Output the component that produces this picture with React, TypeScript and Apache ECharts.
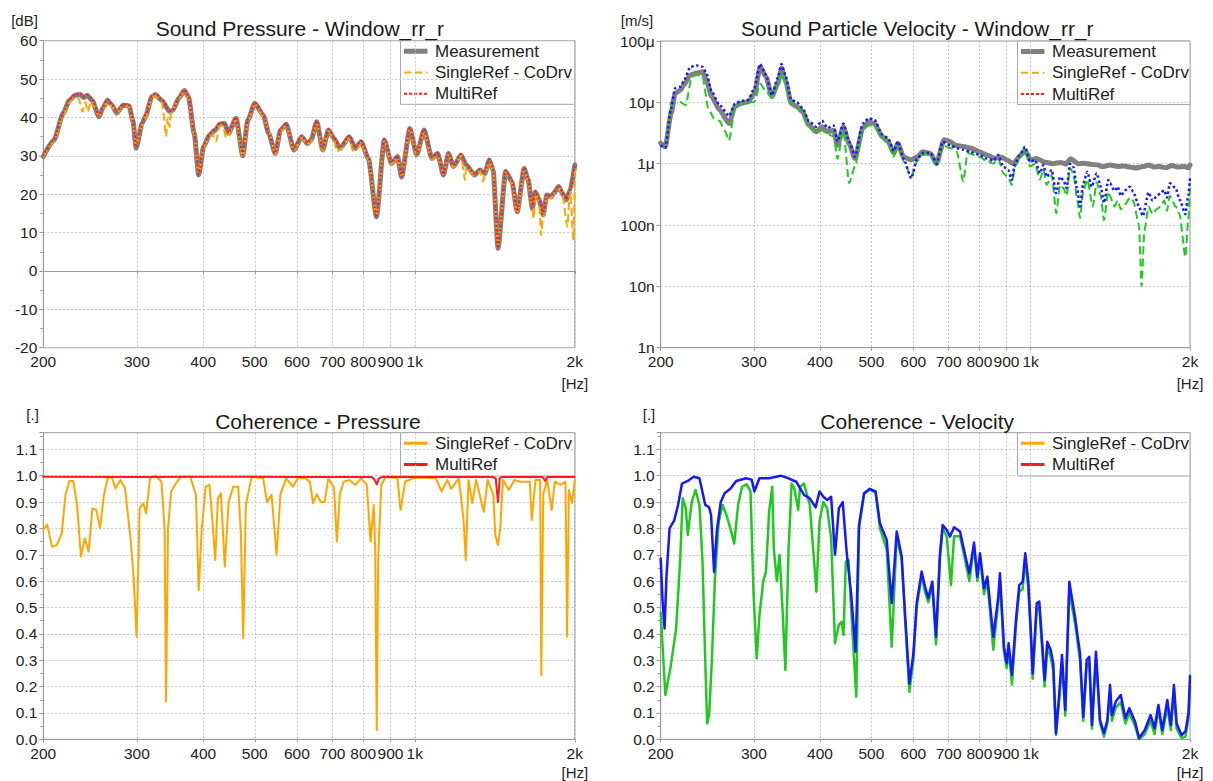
import React, { useEffect, useRef } from "react";
import * as echarts from "echarts";

const FONT = '"Liberation Sans", Arial, sans-serif';

// ---------- axis ticks ----------
const freqTicks = [200, 300, 400, 500, 600, 700, 800, 900, 1000, 2000];
const velocityTicks = [0.001, 0.01, 0.1, 1, 10, 100]; // μm/s
const velocityTickLabels = ["1n", "10n", "100n", "1μ", "10μ", "100μ"];

// ---------- Sound Pressure [dB] : [Hz, dB] ----------
const spMeasurement: [number, number][] = [
  [200, 29.8], [209.5, 34.1], [218, 41.1], [224, 44.5], [229.7, 45.8], [235, 46.0], [238, 45.2], [242, 45.7],
  [247, 44.5], [254.6, 40.2], [259, 42.5], [264, 44.5], [269, 43.3], [274.8, 41.1], [282.6, 43.2], [290, 43],
  [295, 39], [299, 32], [307, 38.5], [312, 40.6], [320, 45.4], [325, 46], [333.8, 44.5], [346, 41.5],
  [350.8, 41.9], [359.6, 45], [368.6, 47], [375, 45.4], [384.6, 35.8], [392, 25], [400.6, 32.4], [410.7, 35.4],
  [421, 36.7], [430, 38.3], [439, 38.4], [446, 35.8], [461, 39.8], [474.6, 30], [485, 39.3], [500, 43.7],
  [518.8, 40.6], [531, 35.8], [546.6, 30.6], [558.8, 36.7], [572.9, 38.2], [592.6, 31.5], [612.5, 35], [628, 33.2],
  [638, 34.1], [654, 38.9], [670.8, 31.5], [688, 36.7], [704.8, 34.5], [722.8, 31.9], [753, 35], [773, 31.9],
  [792, 33.7], [818, 29.3], [847, 14.1], [876, 34.1], [904, 28], [928, 29.8], [944, 24.5], [979, 37.1],
  [1008, 30.2], [1041, 36.7], [1077, 29.3], [1104, 30.6], [1132, 25], [1157, 30.6], [1182, 27.2], [1222, 30.2],
  [1250, 27.6], [1295, 25], [1326, 26.3], [1354, 25.4], [1381, 28.9], [1404, 26.3], [1434, 5.9], [1482, 25.9],
  [1524, 23.2], [1558, 15.4], [1606, 26.7], [1634, 23.7], [1664, 16.3], [1686, 20.6], [1714, 18.5], [1743, 14.6],
  [1772, 19.8], [1804, 19.3], [1834, 20.6], [1865, 22], [1896, 20.2], [1928, 18.5], [1960, 21.1], [2000, 27.6],
];
const spSingleRef: [number, number][] = [
  [200, 29.6], [209.5, 33.8], [218, 40.6], [224, 44.0], [229.7, 45.4], [233, 45.0], [237.2, 41.5], [239.8, 44],
  [242.5, 41.5], [246, 44.3], [254.6, 40.5], [259, 42.2], [264, 44.2], [269, 43.0], [274.8, 41.0], [282.6, 43.0], [290, 42.8],
  [295, 38.8], [299, 32.5], [307, 38.2], [312, 40.2], [320, 45.0], [325, 45.8], [333.8, 44.2], [336, 42], [340.4, 35],
  [343, 40], [345.5, 37.5], [348, 41.5], [359.6, 44.8], [368.6, 46.8], [375, 45.2], [384.6, 35.5], [392, 25.5],
  [400.6, 32.2], [410.7, 35.0], [416, 35.8], [422.6, 33.7], [430, 38.0], [436, 37.5], [441.4, 34.6], [446, 35.5],
  [461, 39.5], [474.6, 29.5], [485, 39.0], [500, 43.5], [518.8, 40.3], [532, 36.3], [546.6, 30.3], [558.8, 36.4],
  [572.9, 37.9], [592.6, 31.3], [612.5, 34.7], [628, 33.0], [638, 33.8], [654, 38.6], [670.8, 31.3], [688, 36.4],
  [704.8, 34.0], [713, 31.1], [722.8, 31.6], [753, 34.6], [765, 31.2], [777, 31.5], [792, 33.4], [818, 29.0],
  [847, 14.5], [876, 33.8], [904, 27.8], [928, 29.5], [944, 24.8], [979, 36.8], [1008, 30.0], [1041, 36.4],
  [1077, 29.0], [1104, 30.3], [1132, 25.3], [1157, 30.3], [1182, 27.0], [1222, 30.0], [1243, 23.7], [1250, 27.2],
  [1295, 24.8], [1326, 26.0], [1345, 23.3], [1354, 25.0], [1381, 28.6], [1404, 26.0], [1434, 6.5], [1482, 25.6],
  [1524, 23.0], [1558, 15.0], [1606, 26.4], [1634, 23.4], [1664, 16.0], [1674, 13.7], [1686, 20.3], [1714, 18.2],
  [1728, 9.3], [1743, 14.3], [1772, 19.5], [1804, 19.0], [1834, 20.3], [1865, 21.7], [1896, 20.0], [1935, 11.5],
  [1960, 20.8], [1989, 8], [2000, 26.5],
];
const spMultiRef: [number, number][] = [
  [200, 29.9], [209.5, 34.3], [218, 41.3], [224, 44.7], [229.7, 46.0], [235, 46.2], [238, 45.4], [242, 45.9],
  [247, 44.7], [254.6, 40.4], [259, 42.7], [264, 44.7], [269, 43.5], [274.8, 41.3], [282.6, 43.4], [290, 43.2],
  [295, 39.2], [299, 32.2], [307, 38.7], [312, 40.8], [320, 45.6], [325, 46.2], [333.8, 44.7], [346, 41.7],
  [350.8, 42.1], [359.6, 45.2], [368.6, 47.2], [375, 45.6], [384.6, 36.0], [392, 25.3], [400.6, 32.6], [410.7, 35.6],
  [421, 36.9], [430, 38.5], [439, 38.6], [446, 36.0], [461, 40.0], [474.6, 30.3], [485, 39.5], [500, 43.9],
  [518.8, 40.8], [531, 36.0], [546.6, 30.8], [558.8, 36.9], [572.9, 38.4], [592.6, 31.7], [612.5, 35.2], [628, 33.4],
  [638, 34.3], [654, 39.1], [670.8, 31.7], [688, 36.9], [704.8, 34.7], [722.8, 32.1], [753, 35.2], [773, 32.1],
  [792, 33.9], [818, 29.5], [847, 14.0], [876, 34.3], [904, 28.2], [928, 30.0], [944, 24.6], [979, 37.3],
  [1008, 30.4], [1041, 36.9], [1077, 29.5], [1104, 30.8], [1132, 25.2], [1157, 30.8], [1182, 27.4], [1222, 30.4],
  [1250, 27.8], [1295, 25.2], [1326, 26.5], [1354, 25.6], [1381, 29.1], [1404, 26.5], [1434, 6.0], [1482, 26.1],
  [1524, 23.4], [1558, 15.6], [1606, 26.9], [1634, 23.9], [1664, 16.5], [1686, 20.8], [1714, 18.7], [1743, 14.8],
  [1772, 20.0], [1804, 19.5], [1834, 20.8], [1865, 22.2], [1896, 20.4], [1928, 18.7], [1960, 21.3], [2000, 27.8],
];

// ---------- Sound Particle Velocity [μm/s] : [Hz, μm/s] ----------
const pvMeasurement: [number, number][] = [
  [200, 2.15], [204, 1.9], [209.3, 6.6], [212.9, 14], [218, 15.8], [221, 19], [227.6, 28], [233.6, 30],
  [239.8, 31.6], [244, 23], [249.6, 12.4], [258.3, 7.5], [269.3, 4.5], [276.2, 8.5], [283.3, 9.6], [293, 10.2],
  [300.6, 14], [308.3, 38], [316.2, 26], [324.4, 12.4], [332.7, 20], [338.3, 35.8], [344, 23], [352.8, 9.6],
  [361.8, 8.5], [371, 7], [380.6, 4.3], [393.4, 3.3], [403.4, 4], [413.8, 3.3], [424.4, 3.5], [431.6, 2],
  [442.7, 4], [454, 2.1], [465.7, 1.22], [481.7, 3.8], [494, 4.8], [506.8, 4.5], [524.2, 2.76], [537.7, 2.3],
  [551.5, 1.47], [560.9, 2.15], [575.3, 1.29], [594.9, 1.15], [610, 1.29], [625.9, 1.56], [647, 1.47], [663.5, 1.0],
  [686.2, 2.46], [703.5, 2.3], [721.6, 2.0], [746.7, 1.9], [772.6, 1.79], [799.4, 1.56], [827, 1.38], [855.8, 1.22],
  [878.6, 1.29], [902, 1.15], [926, 1.0], [958, 1.38], [975, 1.66], [1000, 1.15], [1026, 1.22], [1060, 1.07],
  [1100, 1.0], [1140, 1.05], [1165, 0.98], [1190, 1.2], [1230, 1.0], [1260, 1.02], [1298, 0.98], [1340, 0.95],
  [1366, 0.89], [1415, 0.95], [1460, 0.9], [1500, 0.92], [1540, 0.88], [1580, 0.85], [1630, 0.9], [1670, 0.95],
  [1710, 0.88], [1750, 0.9], [1800, 0.86], [1850, 0.93], [1900, 0.88], [1950, 0.9], [1984, 0.86], [2000, 0.95],
];
const pvSingleRef: [number, number][] = [
  [200, 2.0], [204, 1.8], [209.3, 10], [212.9, 10], [218, 10], [223, 9], [229, 26], [233.6, 28],
  [239.8, 27], [246, 8], [252, 5.5], [258.3, 5], [264, 3.5], [269.3, 2.4], [276.2, 8], [283.3, 9.5],
  [293, 10], [300.6, 10], [308.3, 20], [316.2, 15], [324.4, 12], [332.7, 18], [338.3, 30], [344, 20],
  [352.8, 10], [361.8, 8], [371, 7], [380.6, 4], [393.4, 3.2], [403.4, 3.5], [413.8, 3], [424.4, 2.8],
  [431.6, 1.2], [442.7, 3.5], [454, 0.48], [465.7, 0.9], [481.7, 3.5], [494, 4.2], [506.8, 4.2], [524.2, 2.6],
  [537.7, 2.2], [551.5, 1.3], [560.9, 2.0], [575.3, 1.1], [594.9, 0.6], [610, 1.1], [625.9, 1.4], [647, 1.4],
  [664.5, 0.9], [682, 2.0], [704, 1.8], [724.8, 1.6], [745.8, 0.51], [760, 1.5], [800, 1.3], [826, 1.1],
  [850, 1.0], [868.7, 1.2], [887.8, 0.7], [907.2, 0.6], [920.8, 0.45], [934.2, 0.9], [954.6, 1.2], [975.6, 1.7],
  [997.2, 0.9], [1019, 1.0], [1041.6, 0.55], [1056.8, 0.8], [1072.4, 0.45], [1096, 0.65], [1118, 0.155], [1136.2, 0.45],
  [1153, 0.4], [1169.6, 0.3], [1186.6, 0.85], [1203.8, 0.7], [1225, 0.25], [1239.4, 0.13], [1257.2, 0.35], [1279.4, 0.55],
  [1310, 0.2], [1332.8, 0.5], [1356.4, 0.3], [1375.8, 0.12], [1402, 0.35], [1412, 0.3], [1440, 0.2], [1460, 0.25],
  [1480, 0.18], [1510, 0.22], [1540, 0.28], [1562, 0.25], [1602, 0.1], [1620, 0.01], [1640, 0.08], [1670, 0.2],
  [1700, 0.15], [1727, 0.18], [1760, 0.2], [1787, 0.25], [1810, 0.17], [1832, 0.3], [1879, 0.2], [1911, 0.15],
  [1960, 0.03], [1985, 0.12], [2000, 0.4],
];
const pvMultiRef: [number, number][] = [
  [200, 2.0], [204, 1.8], [209.3, 8], [212.9, 17], [218, 18], [221, 22], [227.6, 38], [233.6, 40],
  [239.8, 38], [244, 30], [249.6, 15], [258.3, 9], [269.3, 6], [276.2, 9.5], [283.3, 10.5], [293, 11],
  [300.6, 17], [308.3, 42], [316.2, 28], [324.4, 13], [332.7, 25], [338.3, 42], [344, 28], [352.8, 11],
  [361.8, 10], [371, 8], [380.6, 5], [393.4, 4], [403.4, 5], [413.8, 3.8], [424.4, 4.2], [431.6, 2.3],
  [442.7, 4.5], [454, 2.3], [465.7, 1.3], [481.7, 4.5], [494, 5.5], [506.8, 5.2], [524.2, 3.0], [537.7, 2.6],
  [551.5, 1.6], [560.9, 2.3], [575.3, 1.2], [594.9, 0.58], [610, 1.2], [625.9, 1.5], [647, 1.5], [664.5, 1.0],
  [682, 2.28], [704, 2.0], [724.8, 1.79], [745.8, 1.68], [768.2, 1.57], [800, 1.39], [826, 1.22], [850, 1.12],
  [868.7, 1.39], [887.8, 0.89], [907.2, 0.79], [920.8, 0.54], [934.2, 1.0], [954.6, 1.39], [975.6, 1.89], [997.2, 1.08],
  [1019, 1.15], [1041.6, 0.7], [1056.8, 0.95], [1072.4, 0.61], [1096, 0.79], [1116.4, 0.33], [1136.2, 0.61], [1153, 0.54],
  [1169.6, 0.4], [1186.6, 1.0], [1203.8, 0.89], [1225, 0.37], [1239.4, 0.2], [1257.2, 0.48], [1279.4, 0.74], [1304, 0.42],
  [1332.8, 0.7], [1356.4, 0.42], [1375.8, 0.23], [1402, 0.54], [1412, 0.48], [1440, 0.36], [1460, 0.42], [1480, 0.3],
  [1510, 0.37], [1540, 0.42], [1562, 0.35], [1602, 0.2], [1629, 0.14], [1670, 0.34], [1700, 0.25], [1727, 0.29],
  [1760, 0.33], [1787, 0.37], [1810, 0.28], [1832, 0.48], [1879, 0.4], [1911, 0.26], [1960, 0.15], [1985, 0.3],
  [2000, 0.6],
];

// ---------- Coherence - Pressure : [Hz, coherence] ----------
const cpSingleRef: [number, number][] = [
  [200, 0.794], [203.4, 0.815], [207.8, 0.73], [212, 0.737], [216.6, 0.78], [220.2, 0.927], [223.9, 0.98], [227.7, 0.98],
  [231.5, 0.889], [235.4, 0.693], [239.4, 0.762], [243.4, 0.712], [247.4, 0.876], [251.6, 0.87], [255.8, 0.8], [260, 0.927],
  [264.4, 0.99], [268.9, 0.996], [273.4, 0.952], [279.4, 0.984], [285, 0.952], [292.2, 0.75], [295.6, 0.623], [299.6, 0.389],
  [303.6, 0.876], [308.6, 0.895], [312.3, 0.857], [317.5, 0.99], [325.5, 1.0], [333.7, 0.977], [338.2, 0.8], [340.4, 0.143],
  [343.3, 0.8], [347.9, 0.939], [353.7, 0.965], [362.6, 0.996], [378, 0.996], [387.5, 0.927], [392.1, 0.566], [397.4, 0.8],
  [404.1, 0.958], [410.8, 0.965], [416.3, 0.826], [421.2, 0.68], [426.1, 0.914], [431.8, 0.933], [439, 0.655], [446.4, 0.9],
  [455.4, 0.958], [465.4, 0.958], [470.8, 0.775], [475.5, 0.383], [481, 0.889], [493.2, 0.996], [518.4, 0.99], [527.1, 0.9],
  [537.7, 0.927], [549.5, 0.7], [558.7, 0.93], [572.8, 0.99], [590.1, 0.958], [602, 0.99], [622.3, 0.99], [634.9, 0.977],
  [643.5, 0.895], [654.3, 0.93], [665.3, 0.9], [676.4, 0.9], [687.7, 0.99], [705, 0.952], [713.3, 0.75], [722.8, 0.93],
  [734.9, 0.977], [753.5, 0.984], [772.7, 0.965], [792.1, 0.99], [812.1, 0.965], [825.7, 0.75], [836.7, 0.889], [842.3, 0.724],
  [847.9, 0.035], [853.6, 0.7], [865, 0.965], [882.4, 0.996], [927.6, 0.99], [940, 0.87], [959, 0.977], [991.3, 0.99],
  [1024.8, 0.993], [1095.4, 0.99], [1123, 0.94], [1151.4, 0.984], [1170.6, 0.95], [1210.1, 0.99], [1234.5, 0.838], [1247, 0.68],
  [1261.7, 0.984], [1282.8, 0.895], [1304.3, 0.984], [1348.3, 0.863], [1370.9, 0.984], [1405.5, 0.927], [1417.2, 0.775], [1433.7, 0.737],
  [1448, 0.8], [1465, 0.984], [1502.2, 0.946], [1540, 0.984], [1578.9, 0.977], [1645.8, 0.977], [1659.5, 0.832], [1687.3, 0.984],
  [1721.2, 0.984], [1729.9, 0.244], [1744.7, 0.93], [1774, 0.984], [1809.6, 0.87], [1833.9, 0.977], [1880.1, 0.965], [1921, 0.977],
  [1933.9, 0.389], [1950, 0.946], [1976.2, 0.895], [2000, 0.984],
];
const cpMultiRef: [number, number][] = [
  [200, 0.996], [300, 0.995], [400, 0.996], [600, 0.995], [830, 0.995], [840, 0.985], [847.9, 0.967], [856, 0.99],
  [870, 0.996], [1000, 0.995], [1400, 0.995], [1420, 0.99], [1433.7, 0.9], [1445, 0.99], [1460, 0.995], [1740, 0.995],
  [1760, 0.98], [1775, 0.995], [2000, 0.995],
];

// ---------- Coherence - Velocity : [Hz, coherence] ----------
const cvSingleRef: [number, number][] = [
  [200, 0.48], [204.1, 0.168], [208.6, 0.27], [213.9, 0.42], [217.6, 0.674], [220.1, 0.914], [223.1, 0.876], [225, 0.775],
  [228.9, 0.9], [232.7, 0.946], [236.7, 0.889], [239.9, 0.674], [242.8, 0.295], [244.8, 0.06], [246.9, 0.092], [249.8, 0.295],
  [253.2, 0.61], [257.5, 0.826], [261.9, 0.889], [266.3, 0.85], [270.8, 0.8], [275.4, 0.743], [280.1, 0.889], [284.9, 0.958],
  [290.7, 0.967], [295.6, 0.94], [299.6, 0.547], [303.7, 0.307], [307.3, 0.47], [312.5, 0.6], [316.2, 0.636], [320.5, 0.863],
  [324.9, 0.958], [327.1, 0.724], [331.5, 0.6], [335.4, 0.7], [340, 0.484], [344, 0.263], [348.7, 0.712], [353.4, 0.97],
  [357.6, 0.952], [363.7, 0.87], [366.8, 0.958], [373, 0.97], [382.5, 0.889], [389, 0.7], [393.7, 0.56], [399.1, 0.826],
  [405.8, 0.9], [412.7, 0.876], [419.8, 0.762], [426.9, 0.364], [434.1, 0.434], [439.3, 0.446], [443, 0.396], [447.5, 0.674],
  [452.8, 0.68], [460.5, 0.408], [468.3, 0.162], [473.9, 0.8], [484.4, 0.93], [496.8, 0.948], [509.4, 0.935], [519, 0.8],
  [534.6, 0.72], [546.4, 0.351], [558.4, 0.77], [570.6, 0.68], [578.9, 0.46], [590, 0.18], [600.4, 0.3], [609, 0.5],
  [622.4, 0.62], [631.5, 0.56], [640.6, 0.52], [651.9, 0.58], [662.5, 0.36], [674.1, 0.69], [682, 0.8], [694, 0.77],
  [707, 0.585], [716.6, 0.77], [735.5, 0.77], [748.2, 0.7], [765.7, 0.6], [781.6, 0.73], [792.9, 0.6], [802.2, 0.69],
  [816.3, 0.55], [828.3, 0.6], [850, 0.34], [868.7, 0.52], [875, 0.6], [890.4, 0.33], [900.8, 0.27], [908.6, 0.34],
  [921.8, 0.207], [938, 0.43], [951.6, 0.56], [965.8, 0.57], [976.8, 0.68], [989.7, 0.57], [1000, 0.4], [1008.8, 0.23],
  [1026.6, 0.49], [1038.2, 0.5], [1050.4, 0.35], [1062.7, 0.2], [1075, 0.35], [1091, 0.31], [1103.4, 0.26], [1116.4, 0.016],
  [1132.6, 0.15], [1146, 0.29], [1162.6, 0.09], [1183.2, 0.57], [1195.4, 0.51], [1212.6, 0.44], [1239.4, 0.3], [1257.2, 0.07],
  [1276, 0.28], [1290.4, 0.29], [1305.6, 0.04], [1328.6, 0.31], [1352.2, 0.06], [1375.8, 0.01], [1396, 0.06], [1412.4, 0.18],
  [1424, 0.07], [1448, 0.12], [1480, 0.14], [1510, 0.06], [1536, 0.1], [1575, 0.05], [1602, 0.0], [1643, 0.02],
  [1685, 0.07], [1714, 0.02], [1743, 0.11], [1773, 0.02], [1812, 0.12], [1840, 0.035], [1865, 0.18], [1887, 0.04],
  [1928, 0.005], [1961, 0.01], [1987, 0.08], [2000, 0.2],
];
const cvMultiRef: [number, number][] = [
  [200, 0.686], [201.7, 0.52], [203.4, 0.42], [205.1, 0.62], [207.9, 0.8], [212.1, 0.83], [215.7, 0.889], [219.4, 0.97],
  [225, 0.98], [230.8, 0.996], [236.7, 0.99], [242.8, 0.889], [246.9, 0.88], [249, 0.85], [252.3, 0.636], [255.3, 0.79],
  [259.7, 0.9], [264.1, 0.933], [270.8, 0.95], [277.8, 0.98], [289.7, 0.99], [297.1, 0.985], [300.6, 0.94], [307.3, 0.99],
  [320.5, 0.99], [337.1, 1.0], [348.7, 0.99], [360.6, 0.977], [373, 0.927], [382.5, 0.914], [392.4, 0.88], [399.1, 0.94],
  [405.8, 0.92], [412.7, 0.908], [419.8, 0.92], [426.9, 0.7], [434.1, 0.876], [441.5, 0.9], [449, 0.712], [458.2, 0.547],
  [466.8, 0.332], [473.9, 0.813], [484.4, 0.933], [496.8, 0.95], [509.4, 0.94], [519, 0.82], [534.6, 0.756], [546.4, 0.516],
  [558.4, 0.788], [570.6, 0.693], [578.9, 0.478], [590, 0.212], [600.4, 0.326], [609, 0.516], [622.4, 0.636], [631.5, 0.579],
  [640.6, 0.535], [651.9, 0.598], [662.5, 0.389], [674.1, 0.706], [682, 0.813], [694, 0.794], [704.2, 0.769], [716.6, 0.804],
  [735.5, 0.788], [748.2, 0.718], [765.7, 0.63], [781.6, 0.746], [792.9, 0.617], [802.2, 0.706], [816.3, 0.573], [828.3, 0.617],
  [850, 0.389], [868.7, 0.541], [875, 0.63], [890.4, 0.351], [900.8, 0.288], [908.6, 0.364], [921.8, 0.244], [938, 0.453],
  [951.6, 0.585], [965.8, 0.598], [976.8, 0.706], [989.7, 0.598], [1000, 0.427], [1008.8, 0.25], [1026.6, 0.516], [1038.2, 0.522],
  [1050.4, 0.377], [1062.7, 0.225], [1075, 0.37], [1091, 0.339], [1103.4, 0.288], [1116.4, 0.023], [1132.6, 0.175], [1146, 0.32],
  [1162.6, 0.111], [1183.2, 0.598], [1195.4, 0.541], [1212.6, 0.465], [1239.4, 0.326], [1257.2, 0.086], [1276, 0.301], [1290.4, 0.313],
  [1305.6, 0.054], [1328.6, 0.332], [1352.2, 0.073], [1375.8, 0.023], [1396, 0.073], [1412.4, 0.206], [1424, 0.092], [1448, 0.143],
  [1480, 0.168], [1510, 0.08], [1536, 0.118], [1575, 0.067], [1602, 0.004], [1643, 0.035], [1685, 0.092], [1714, 0.042],
  [1743, 0.13], [1773, 0.035], [1812, 0.149], [1840, 0.054], [1865, 0.206], [1887, 0.06], [1928, 0.016], [1961, 0.03],
  [1987, 0.1], [2000, 0.24],
];

// ---------- layout / styling ----------
const panels = [
  { left: 43.3, top: 40.7, width: 531.5, height: 307 },
  { left: 660.7, top: 41, width: 529.3, height: 306.7 },
  { left: 43.3, top: 432.7, width: 531.5, height: 306.6 },
  { left: 660.7, top: 432.7, width: 529.3, height: 306.6 },
];
const titles = [
  { text: "Sound Pressure - Window_rr_r", x: 299.8, y: 18 },
  { text: "Sound Particle Velocity - Window_rr_r", x: 917.3, y: 18 },
  { text: "Coherence - Pressure", x: 317.9, y: 410.5 },
  { text: "Coherence - Velocity", x: 917.2, y: 410.5 },
];
const unitLabels = [
  { text: "[dB]", x: 24.5, y: 20 },
  { text: "[m/s]", x: 637, y: 20 },
  { text: "[.]", x: 32.6, y: 414 },
  { text: "[.]", x: 649, y: 414 },
  { text: "[Hz]", x: 574.8, y: 383 },
  { text: "[Hz]", x: 1190, y: 383 },
  { text: "[Hz]", x: 574.8, y: 772 },
  { text: "[Hz]", x: 1190, y: 772 },
];

const GRID_LINE = { color: "#c4c4c4", type: [2, 2] as number[], width: 1 };
const AXIS_COLOR = "#9a9a9a";
const LABEL_COLOR = "#222";
const GRAY = "#808080";
const ORANGE = "#ffa500";
const RED = "#ff1a1a";
const GREEN = "#22c722";
const BLUE = "#1818ff";

type LegendItem = { name: string; color: string; width: number; dash?: number[] };

function legendGraphic(x: number, y: number, w: number, h: number, items: LegendItem[]) {
  const children: any[] = [
    { type: "rect", shape: { x, y, width: w, height: h }, style: { fill: "#fff", stroke: "#a8a8a8", lineWidth: 1 } },
  ];
  items.forEach((it, i) => {
    const cy = y + 10.5 + i * 21.3;
    children.push({
      type: "line",
      shape: { x1: x + 3.5, y1: cy, x2: x + 27, y2: cy },
      style: { stroke: it.color, lineWidth: it.width, lineDash: it.dash || null, lineCap: "butt" },
    });
    children.push({
      type: "text",
      x: x + 34.5,
      y: cy,
      style: { text: it.name, fill: LABEL_COLOR, font: `17px ${FONT}`, verticalAlign: "middle", align: "left" },
    });
  });
  return { type: "group", children, z: 100 };
}

function xAxisFor(gridIndex: number) {
  return {
    type: "log",
    logBase: 10,
    gridIndex,
    min: 200,
    max: 2000,
    axisLine: { show: true, lineStyle: { color: AXIS_COLOR } },
    axisTick: { show: true, customValues: freqTicks, length: 3, lineStyle: { color: AXIS_COLOR } },
    axisLabel: {
      customValues: freqTicks,
      color: LABEL_COLOR,
      fontSize: 15.5,
      fontFamily: FONT,
      margin: 6,
      hideOverlap: false,
      formatter: (v: number) => (v >= 1000 ? `${Math.round(v / 1000)}k` : `${Math.round(v)}`),
    },
    splitLine: { show: true, lineStyle: GRID_LINE },
    minorTick: { show: false },
  };
}

const yLabelBase = { color: LABEL_COLOR, fontSize: 15.5, fontFamily: FONT, margin: 6 };

function buildOption() {
  const lineSeries = (
    name: string,
    data: [number, number][],
    idx: number,
    color: string,
    width: number,
    dash?: number[],
    smooth = 0
  ) => ({
    type: "line",
    name,
    data,
    xAxisIndex: idx,
    yAxisIndex: idx,
    showSymbol: false,
    symbol: "none",
    silent: true,
    smooth,
    smoothMonotone: "x",
    lineStyle: { color, width, type: dash || "solid", cap: dash ? "butt" : "round", join: "round" },
    itemStyle: { color },
    emphasis: { disabled: true },
  });

  return {
    animation: false,
    backgroundColor: "#ffffff",
    title: titles.map((t) => ({
      text: t.text,
      left: t.x,
      top: t.y,
      textAlign: "center",
      padding: 0,
      textStyle: { fontSize: 21, fontWeight: "normal", color: "#1a1a1a", fontFamily: FONT },
    })),
    grid: panels.map((p) => ({
      left: p.left,
      top: p.top,
      width: p.width,
      height: p.height,
      show: true,
      borderColor: AXIS_COLOR,
      borderWidth: 1,
      backgroundColor: "transparent",
      containLabel: false,
      outerBoundsMode: "none",
    })),
    xAxis: [0, 1, 2, 3].map(xAxisFor),
    yAxis: [
      {
        type: "value",
        gridIndex: 0,
        min: -20,
        max: 60,
        interval: 10,
        axisLine: { show: true, lineStyle: { color: AXIS_COLOR } },
        axisTick: { show: true, length: 4, lineStyle: { color: AXIS_COLOR } },
        minorTick: { show: true, splitNumber: 2, length: 3, lineStyle: { color: AXIS_COLOR } },
        axisLabel: { ...yLabelBase },
        splitLine: { show: true, lineStyle: GRID_LINE },
      },
      {
        type: "log",
        logBase: 10,
        gridIndex: 1,
        min: 0.001,
        max: 100,
        axisLine: { show: true, lineStyle: { color: AXIS_COLOR } },
        axisTick: { show: true, length: 4, lineStyle: { color: AXIS_COLOR } },
        axisLabel: {
          ...yLabelBase,
          formatter: (v: number) => {
            const i = velocityTicks.findIndex((t) => Math.abs(Math.log10(t) - Math.log10(v)) < 1e-6);
            return i >= 0 ? velocityTickLabels[i] : "";
          },
        },
        splitLine: { show: true, lineStyle: GRID_LINE },
      },
      ...[2, 3].map((gi) => ({
        type: "value",
        gridIndex: gi,
        min: 0,
        max: 1.163,
        interval: 0.1,
        axisLine: { show: true, lineStyle: { color: AXIS_COLOR } },
        axisTick: { show: true, length: 4, lineStyle: { color: AXIS_COLOR } },
        minorTick: { show: true, splitNumber: 2, length: 3, lineStyle: { color: AXIS_COLOR } },
        axisLabel: { ...yLabelBase, showMaxLabel: false, formatter: (v: number) => v.toFixed(1) },
        splitLine: { show: true, showMaxLine: false, lineStyle: GRID_LINE },
      })),
    ],
    series: [
      lineSeries("Measurement", spMeasurement, 0, GRAY, 5, undefined, 0.2),
      lineSeries("SingleRef - CoDrv", spSingleRef, 0, ORANGE, 2, [8, 4], 0.2),
      lineSeries("MultiRef", spMultiRef, 0, RED, 2, [2, 2], 0.2),
      lineSeries("Measurement", pvMeasurement, 1, GRAY, 5, undefined, 0.2),
      lineSeries("SingleRef - CoDrv", pvSingleRef, 1, GREEN, 2, [8, 4], 0.2),
      lineSeries("MultiRef", pvMultiRef, 1, BLUE, 2.5, [2.5, 2.5], 0.2),
      lineSeries("SingleRef - CoDrv", cpSingleRef, 2, ORANGE, 2),
      lineSeries("MultiRef", cpMultiRef, 2, RED, 2),
      lineSeries("SingleRef - CoDrv", cvSingleRef, 3, GREEN, 2.5),
      lineSeries("MultiRef", cvMultiRef, 3, BLUE, 2.5),
    ],
    graphic: [
      ...unitLabels.map((u) => ({
        type: "text",
        x: u.x,
        y: u.y,
        style: { text: u.text, fill: LABEL_COLOR, font: `15px ${FONT}`, align: "center", verticalAlign: "middle" },
      })),
      legendGraphic(400.5, 40.7, 174.3, 63.6, [
        { name: "Measurement", color: GRAY, width: 5 },
        { name: "SingleRef - CoDrv", color: ORANGE, width: 2, dash: [7, 4] },
        { name: "MultiRef", color: RED, width: 2, dash: [3, 2] },
      ]),
      legendGraphic(1017.5, 41, 172.5, 63.5, [
        { name: "Measurement", color: GRAY, width: 5 },
        { name: "SingleRef - CoDrv", color: ORANGE, width: 2, dash: [7, 4] },
        { name: "MultiRef", color: RED, width: 2, dash: [3, 2] },
      ]),
      legendGraphic(400.5, 432.7, 174.3, 43.3, [
        { name: "SingleRef - CoDrv", color: ORANGE, width: 3 },
        { name: "MultiRef", color: RED, width: 3 },
      ]),
      legendGraphic(1017.5, 432.7, 172.5, 43.3, [
        { name: "SingleRef - CoDrv", color: ORANGE, width: 3 },
        { name: "MultiRef", color: RED, width: 3 },
      ]),
    ],
  };
}

export default function App() {
  const ref = useRef<HTMLDivElement | null>(null);
  useEffect(() => {
    if (!ref.current) return;
    const chart = echarts.init(ref.current, undefined, { renderer: "svg" });
    chart.setOption(buildOption() as any);
    return () => chart.dispose();
  }, []);
  return (
    <div
      ref={ref}
      style={{ position: "fixed", left: 0, top: 0, width: 1213, height: 781, background: "#fff" }}
    />
  );
}
